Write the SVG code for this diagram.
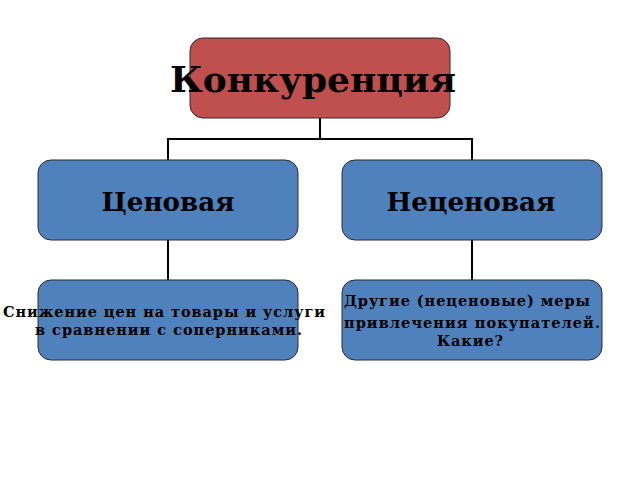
<svg xmlns="http://www.w3.org/2000/svg" width="640" height="480" viewBox="0 0 640 480">
<style>
.box{stroke:#2b2b2b;stroke-width:1}
.red{fill:#C0504D}
.blue{fill:#4F81BD}
.t{font-family:"DejaVu Serif","Liberation Serif",serif;font-weight:bold;fill:#000;text-anchor:middle}
.conn{stroke:#000;stroke-width:2;fill:none}
</style>
<rect width="640" height="480" fill="#fff"/>
<g id="connectors">
<path class="conn" d="M320 118V139M168 160V139H472V160M168 240V280M472 240V280"/>
</g>
<g id="n-root">
<rect class="box red" x="190" y="38" width="260" height="80" rx="13"/>
<text class="t" x="313" y="92" font-size="36" textLength="286" lengthAdjust="spacingAndGlyphs">Конкуренция</text>
</g>
<g id="n-price">
<rect class="box blue" x="38" y="160" width="260" height="80" rx="13"/>
<text class="t" x="168" y="211" font-size="26" textLength="133" lengthAdjust="spacingAndGlyphs">Ценовая</text>
</g>
<g id="n-nonprice">
<rect class="box blue" x="342" y="160" width="260" height="80" rx="13"/>
<text class="t" x="471" y="211" font-size="26" textLength="169" lengthAdjust="spacingAndGlyphs">Неценовая</text>
</g>
<g id="n-price-desc">
<rect class="box blue" x="38" y="280" width="260" height="80" rx="13"/>
<text class="t" x="164" y="317" font-size="14.5" textLength="322" lengthAdjust="spacing">Снижение цен на товары и услуги</text>
<text class="t" x="168.5" y="335" font-size="14.5" textLength="267" lengthAdjust="spacing">в сравнении с соперниками.</text>
</g>
<g id="n-nonprice-desc">
<rect class="box blue" x="342" y="280" width="260" height="80" rx="13"/>
<text class="t" x="467" y="306" font-size="14.5" textLength="246" lengthAdjust="spacing">Другие (неценовые) меры</text>
<text class="t" x="472" y="328" font-size="14.5" textLength="256" lengthAdjust="spacing">привлечения покупателей.</text>
<text class="t" x="470" y="346" font-size="14.5" textLength="66" lengthAdjust="spacing">Какие?</text>
</g>
</svg>
